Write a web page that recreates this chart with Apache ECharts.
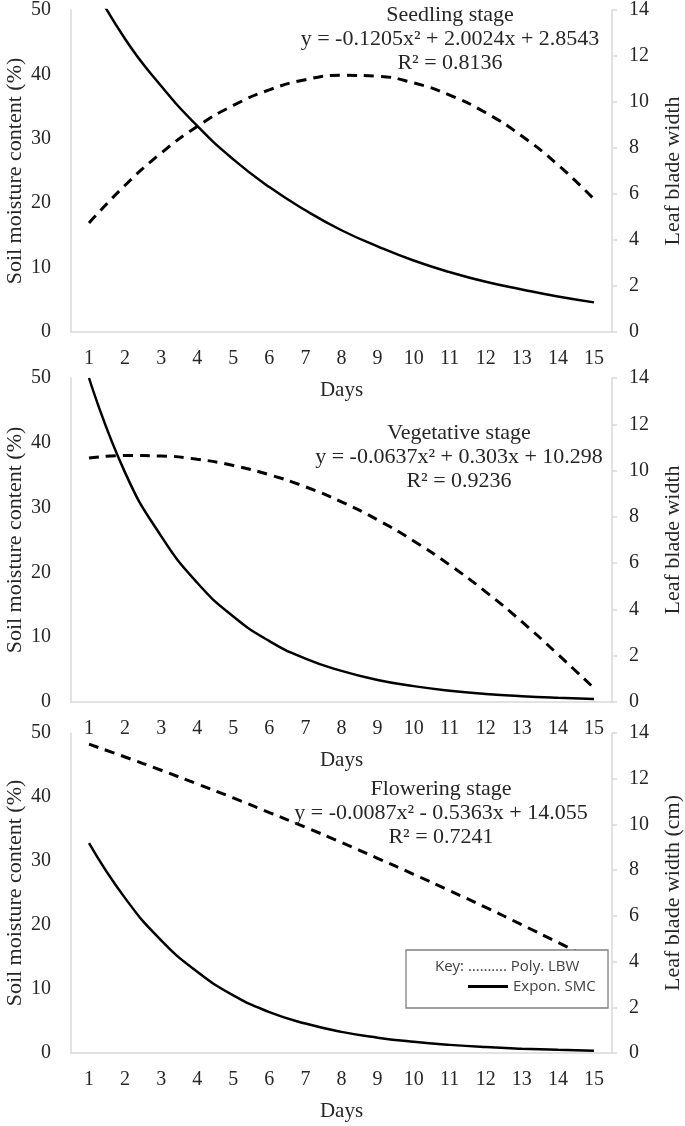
<!DOCTYPE html>
<html>
<head>
<meta charset="utf-8">
<script src="https://cdn.jsdelivr.net/npm/echarts@6/dist/echarts.min.js"></script>
<style>html,body{margin:0;padding:0;background:#fff}#c{width:685px;height:1126px}</style>
</head>
<body>
<div id="c"></div>
<script>
const days = ['1','2','3','4','5','6','7','8','9','10','11','12','13','14','15'];
const stageNames = ['Seedling stage', 'Vegetative stage', 'Flowering stage'];
const equations = ['y = -0.1205x\u00B2 + 2.0024x + 2.8543', 'y = -0.0637x\u00B2 + 0.303x + 10.298', 'y = -0.0087x\u00B2 - 0.5363x + 14.055'];
const r2Labels = ['R\u00B2 = 0.8136', 'R\u00B2 = 0.9236', 'R\u00B2 = 0.7241'];
const leftAxisName = 'Soil moisture content (%)';
const rightAxisNames = ['Leaf blade width', 'Leaf blade width', 'Leaf blade width (cm)'];
const xAxisName = 'Days';
const smcName = 'Expon. SMC';
const lbwName = 'Poly. LBW';

const smcSeedling   = [55.0, 45.5, 38.2, 32.0, 26.8, 22.5, 18.9, 15.8, 13.3, 11.1, 9.3, 7.8, 6.6, 5.5, 4.6];
const lbwSeedling   = [4.74, 6.38, 7.78, 8.94, 9.85, 10.53, 10.97, 11.16, 11.12, 10.83, 10.30, 9.53, 8.52, 7.27, 5.78];
const smcVegetative = [50.0, 35.4, 25.6, 18.4, 13.2, 9.4, 6.7, 4.8, 3.4, 2.45, 1.75, 1.25, 0.9, 0.65, 0.47];
const lbwVegetative = [10.54, 10.65, 10.63, 10.49, 10.22, 9.82, 9.30, 8.65, 7.87, 6.96, 5.92, 4.76, 3.47, 2.06, 0.6];
const smcFlowering  = [32.8, 24.2, 17.6, 12.7, 9.0, 6.4, 4.6, 3.3, 2.4, 1.75, 1.27, 0.92, 0.67, 0.49, 0.36];
const lbwFlowering  = [13.51, 12.95, 12.37, 11.77, 11.16, 10.52, 9.88, 9.21, 8.52, 7.82, 7.10, 6.37, 5.61, 4.84, 4.05];

const smcData = [smcSeedling, smcVegetative, smcFlowering];
const lbwData = [lbwSeedling, lbwVegetative, lbwFlowering];

const serif = '"Liberation Serif", "Times New Roman", serif';
const axisGray = '#d9d9d9';
const textColor = '#262626';

const grids = [
  {left: 71, right: 73, top: 10, height: 322, outerBoundsMode: 'none', containLabel: false},
  {left: 71, right: 73, top: 378, height: 324, outerBoundsMode: 'none', containLabel: false},
  {left: 71, right: 73, top: 733, height: 320, outerBoundsMode: 'none', containLabel: false}
];
const blockPos = [[450, 3], [459, 421], [441, 777]];

const xAxes = [], yAxes = [], series = [], graphics = [];
grids.forEach((g, i) => {
  xAxes.push({
    type: 'category', gridIndex: i, data: days, boundaryGap: true,
    name: xAxisName, nameLocation: 'middle', nameGap: 48, nameMoveOverlap: false,
    nameTextStyle: {fontFamily: serif, fontSize: 21, color: textColor},
    axisLine: {lineStyle: {color: axisGray, width: 1.5}},
    axisTick: {show: false},
    axisLabel: {interval: 0, margin: 17, fontFamily: serif, fontSize: 20, color: textColor}
  });
  yAxes.push({
    type: 'value', gridIndex: i, position: 'left', min: 0, max: 50, interval: 10,
    name: leftAxisName, nameLocation: 'middle', nameRotate: 90, nameGap: 45, nameMoveOverlap: false,
    nameTextStyle: {fontFamily: serif, fontSize: 22, color: textColor},
    axisLine: {show: true, lineStyle: {color: axisGray, width: 1.5}},
    axisTick: {show: false}, splitLine: {show: false},
    axisLabel: {margin: 20, fontFamily: serif, fontSize: 20, color: textColor}
  });
  yAxes.push({
    type: 'value', gridIndex: i, position: 'right', min: 0, max: 14, interval: 2,
    name: rightAxisNames[i], nameLocation: 'middle', nameRotate: 90, nameGap: 50, nameMoveOverlap: false,
    nameTextStyle: {fontFamily: serif, fontSize: 22, color: textColor},
    axisLine: {show: true, lineStyle: {color: axisGray, width: 1.5}},
    axisTick: {show: true, length: 5, lineStyle: {color: axisGray, width: 1.5}},
    splitLine: {show: false},
    axisLabel: {margin: 17, fontFamily: serif, fontSize: 20, color: textColor}
  });
  series.push({
    name: smcName, type: 'line', xAxisIndex: i, yAxisIndex: i * 2,
    data: smcData[i], smooth: true, symbol: 'none', clip: true,
    lineStyle: {color: '#000', width: 2.5}, itemStyle: {color: '#000'}
  });
  series.push({
    name: lbwName, type: 'line', xAxisIndex: i, yAxisIndex: i * 2 + 1,
    data: lbwData[i], smooth: true, symbol: 'none', clip: true,
    lineStyle: {color: '#000', width: 3, type: [10, 7]}, itemStyle: {color: '#000'}
  });
  graphics.push({
    type: 'text', x: blockPos[i][0], y: blockPos[i][1], z: 30,
    style: {
      text: stageNames[i] + '\n' + equations[i] + '\n' + r2Labels[i],
      textAlign: 'center', textVerticalAlign: 'top',
      font: '22px ' + serif, lineHeight: 24, fill: textColor
    }
  });
});

graphics.push({
  type: 'rect', z: 50,
  shape: {x: 406, y: 950, width: 202, height: 58},
  style: {fill: '#fff', stroke: '#808080', lineWidth: 1.3}
});

const legendFont = {fontFamily: '"Open Sans", "Liberation Sans", sans-serif', fontSize: 15, color: '#404040'};

const option = {
  animation: false,
  backgroundColor: '#fff',
  grid: grids,
  xAxis: xAxes,
  yAxis: yAxes,
  series: series,
  graphic: {elements: graphics},
  legend: [
    {
      z: 60, left: 428, top: 959, padding: 0, itemWidth: 2, itemHeight: 2,
      selectedMode: false,
      data: [{name: lbwName, icon: 'none'}],
      formatter: () => 'Key: \u2026\u2026\u2026. ' + lbwName,
      textStyle: legendFont
    },
    {
      z: 60, left: 468, top: 979, padding: 0, itemWidth: 40, itemHeight: 3,
      selectedMode: false,
      data: [{name: smcName, icon: 'rect'}],
      textStyle: legendFont
    }
  ]
};

const chart = echarts.init(document.getElementById('c'), null, {renderer: 'canvas'});
chart.setOption(option);
</script>
</body>
</html>
